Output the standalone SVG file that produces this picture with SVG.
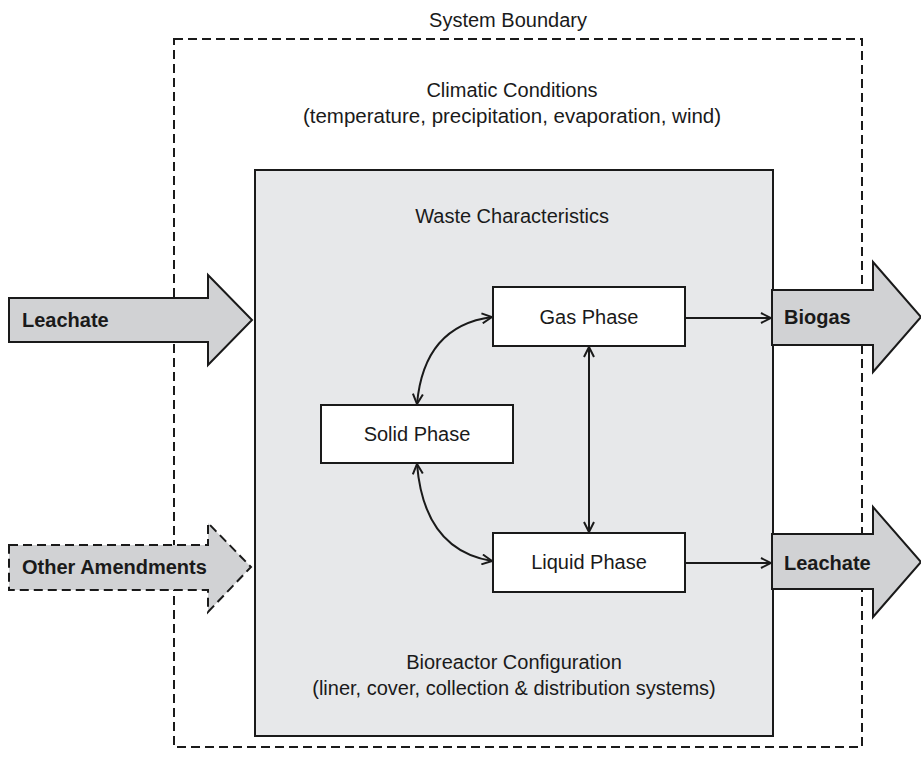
<svg xmlns="http://www.w3.org/2000/svg" width="921" height="762" viewBox="0 0 921 762">
  <style>
    .t { font-family: "Liberation Sans", Arial, sans-serif; font-size: 20px; fill: #1a1a1a; }
    .c { text-anchor: middle; }
    .b { font-weight: bold; }
    .box { fill: #ffffff; stroke: #1a1a1a; stroke-width: 2; }
    .flow { fill: #d1d2d4; stroke: #1a1a1a; stroke-width: 2; stroke-linejoin: miter; }
    .dash { stroke-dasharray: 9 5; }
    .link { fill: none; stroke: #1a1a1a; stroke-width: 2; }
  </style>
  <defs>
    <marker id="v" viewBox="0 0 12 12" refX="11" refY="6" markerWidth="12" markerHeight="12" markerUnits="userSpaceOnUse" orient="auto-start-reverse">
      <path d="M1,1 L11,6 L1,11" fill="none" stroke="#1a1a1a" stroke-width="2"/>
    </marker>
  </defs>

  <rect width="921" height="762" fill="#ffffff"/>

  <!-- system boundary -->
  <g id="boundary">
    <rect x="174" y="39" width="688" height="708" fill="none" stroke="#1a1a1a" stroke-width="2" class="dash"/>
    <text class="t c" x="508" y="27">System Boundary</text>
    <text class="t c" x="512" y="97">Climatic Conditions</text>
    <text class="t c" x="512" y="123" style="font-size:20.5px">(temperature, precipitation, evaporation, wind)</text>
  </g>

  <!-- bioreactor -->
  <g id="bioreactor">
    <rect x="255" y="170" width="518" height="566" fill="#e7e8ea" stroke="#1a1a1a" stroke-width="2"/>
    <text class="t c" x="512" y="223">Waste Characteristics</text>
    <text class="t c" x="514" y="669">Bioreactor Configuration</text>
    <text class="t c" x="514" y="695">(liner, cover, collection &amp; distribution systems)</text>
  </g>

  <!-- inflows -->
  <g id="leachate-in">
    <path class="flow" d="M9,298 H208 V275 L252,320 L208,365 V342 H9 Z"/>
    <text class="t b" x="22" y="327">Leachate</text>
  </g>
  <g id="amendments-in">
    <path class="flow dash" d="M9,545 H208 V523 L251,567 L208,612 V590 H9 Z"/>
    <text class="t b" x="22" y="574">Other Amendments</text>
  </g>

  <!-- outflows -->
  <g id="biogas-out">
    <path class="flow" d="M772,290 H873 V262 L921,317 L873,372 V345 H772 Z"/>
    <text class="t b" x="784" y="324">Biogas</text>
  </g>
  <g id="leachate-out">
    <path class="flow" d="M772,534 H873 V507 L921,562 L873,617 V589 H772 Z"/>
    <text class="t b" x="784" y="570">Leachate</text>
  </g>

  <!-- phases -->
  <g id="gas-phase">
    <rect class="box" x="493" y="287" width="192" height="59"/>
    <text class="t c" x="589" y="324">Gas Phase</text>
  </g>
  <g id="solid-phase">
    <rect class="box" x="321" y="405" width="192" height="58"/>
    <text class="t c" x="417" y="441">Solid Phase</text>
  </g>
  <g id="liquid-phase">
    <rect class="box" x="493" y="533" width="192" height="59"/>
    <text class="t c" x="589" y="569">Liquid Phase</text>
  </g>

  <!-- connectors -->
  <g id="connectors">
    <path class="link" d="M417,404 Q424,326 492,317" marker-start="url(#v)" marker-end="url(#v)"/>
    <path class="link" d="M417,464 Q424,550 492,561" marker-start="url(#v)" marker-end="url(#v)"/>
    <path class="link" d="M589,347 V532" marker-start="url(#v)" marker-end="url(#v)"/>
    <path class="link" d="M685,318 H771" marker-end="url(#v)"/>
    <path class="link" d="M685,563 H771" marker-end="url(#v)"/>
  </g>
</svg>
